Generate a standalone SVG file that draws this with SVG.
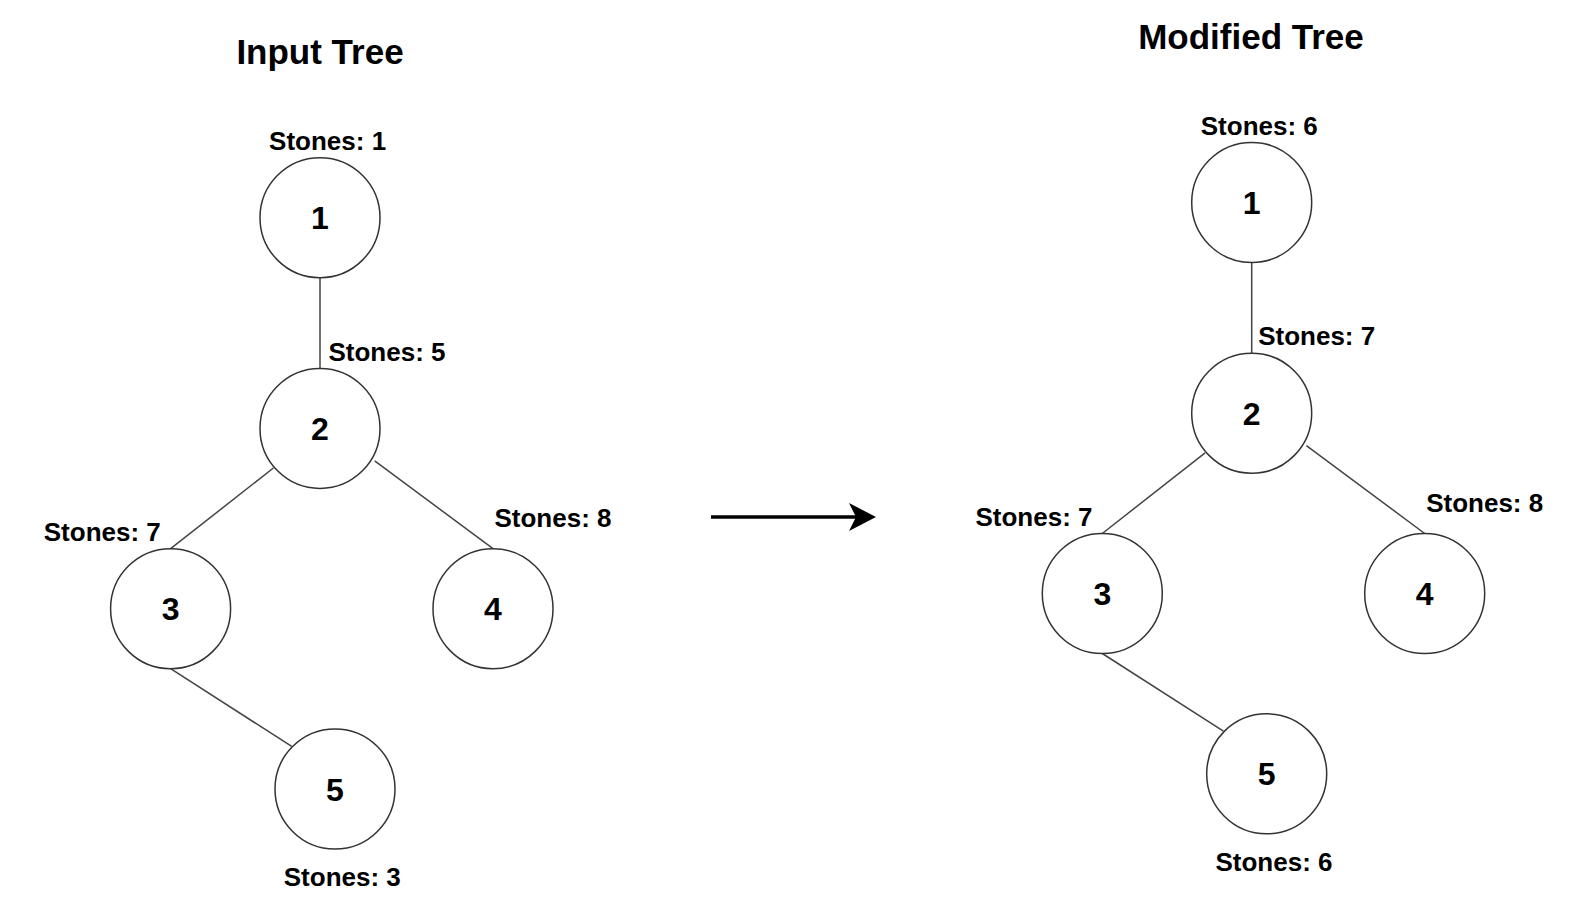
<svg xmlns="http://www.w3.org/2000/svg" width="1588" height="903" viewBox="0 0 1588 903">
<style>
.node circle{fill:#fff;stroke:#333;stroke-width:1.5}
.num{font-family:"Liberation Sans",Arial,sans-serif;font-weight:bold;font-size:32px;text-anchor:middle;fill:#000}
.lbl{font-family:"Liberation Sans",Arial,sans-serif;font-weight:bold;font-size:26px;text-anchor:middle;fill:#000}
.title{font-family:"Liberation Sans",Arial,sans-serif;font-weight:bold;font-size:35px;text-anchor:middle;fill:#000}
.edge{stroke:#444;stroke-width:1.5;fill:none}
</style>
<defs>
<marker id="ah" viewBox="0 0 28 28" markerWidth="28" markerHeight="28" refX="7" refY="14" orient="auto" markerUnits="userSpaceOnUse">
<path d="M0,0 L27,14 L0,28 L7,14 Z" fill="#000"/>
</marker>
</defs>
<rect width="1588" height="903" fill="#fff"/>
<text class="title" x="320" y="64">Input Tree</text>
<text class="title" x="1251" y="49">Modified Tree</text>
<g id="connectors">
<g id="left-edges">
<line class="edge" x1="320" y1="277.7" x2="320" y2="368.4"/>
<line class="edge" x1="273.4" y1="468" x2="170.6" y2="548.7"/>
<line class="edge" x1="374.7" y1="460.8" x2="493" y2="548.7"/>
<line class="edge" x1="170.6" y1="668.7" x2="291.7" y2="746.4"/>
</g>
<g id="right-edges" transform="translate(931.7,-15.2)">
<line class="edge" x1="320" y1="277.7" x2="320" y2="368.4"/>
<line class="edge" x1="273.4" y1="468" x2="170.6" y2="548.7"/>
<line class="edge" x1="374.7" y1="460.8" x2="493" y2="548.7"/>
<line class="edge" x1="170.6" y1="668.7" x2="291.7" y2="746.4"/>
</g>
<line id="transform-arrow" x1="711" y1="517" x2="856" y2="517" stroke="#000" stroke-width="3.5" marker-end="url(#ah)"/>
</g>
<g id="left-tree">
<g id="L1" class="node"><circle cx="320" cy="217.7" r="60"/><text class="num" x="320" y="229.2">1</text><text class="lbl" x="327.6" y="150">Stones: 1</text></g>
<g id="L2" class="node"><circle cx="320" cy="428.4" r="60"/><text class="num" x="320" y="439.9">2</text><text class="lbl" x="387" y="360.5">Stones: 5</text></g>
<g id="L3" class="node"><circle cx="170.6" cy="608.7" r="60"/><text class="num" x="170.6" y="620.2">3</text><text class="lbl" x="102.3" y="541">Stones: 7</text></g>
<g id="L4" class="node"><circle cx="493" cy="608.7" r="60"/><text class="num" x="493" y="620.2">4</text><text class="lbl" x="553" y="527">Stones: 8</text></g>
<g id="L5" class="node"><circle cx="335" cy="789" r="60"/><text class="num" x="335" y="800.5">5</text><text class="lbl" x="342.3" y="886">Stones: 3</text></g>
</g>
<g id="right-tree" transform="translate(931.7,-15.2)">
<g id="R1" class="node"><circle cx="320" cy="217.7" r="60"/><text class="num" x="320" y="229.2">1</text><text class="lbl" x="327.6" y="150">Stones: 6</text></g>
<g id="R2" class="node"><circle cx="320" cy="428.4" r="60"/><text class="num" x="320" y="439.9">2</text><text class="lbl" x="385" y="360.5">Stones: 7</text></g>
<g id="R3" class="node"><circle cx="170.6" cy="608.7" r="60"/><text class="num" x="170.6" y="620.2">3</text><text class="lbl" x="102.3" y="541">Stones: 7</text></g>
<g id="R4" class="node"><circle cx="493" cy="608.7" r="60"/><text class="num" x="493" y="620.2">4</text><text class="lbl" x="553" y="527">Stones: 8</text></g>
<g id="R5" class="node"><circle cx="335" cy="789" r="60"/><text class="num" x="335" y="800.5">5</text><text class="lbl" x="342.3" y="886">Stones: 6</text></g>
</g>
</svg>
